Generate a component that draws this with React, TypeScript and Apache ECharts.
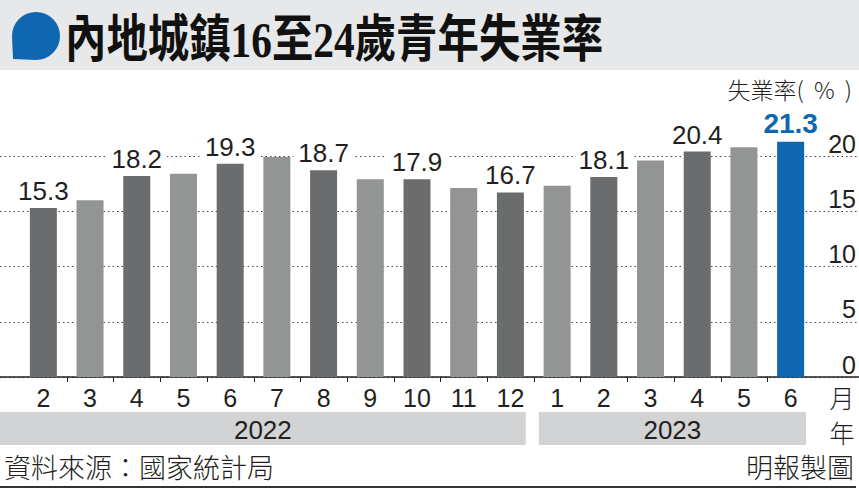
import React, { useEffect, useRef } from 'react';
import * as echarts from 'echarts';

// ---- data ----
const months = ['2', '3', '4', '5', '6', '7', '8', '9', '10', '11', '12', '1', '2', '3', '4', '5', '6'];
const monthYear = ['2022', '2022', '2022', '2022', '2022', '2022', '2022', '2022', '2022', '2022', '2022', '2023', '2023', '2023', '2023', '2023', '2023'];
const rates = [15.3, 16.0, 18.2, 18.4, 19.3, 19.9, 18.7, 17.9, 17.9, 17.1, 16.7, 17.3, 18.1, 19.6, 20.4, 20.8, 21.3];
const labeledIdx = [0, 2, 4, 6, 8, 10, 12, 14, 16];
const yearLabels = ['2022', '2023'];
const yearFirst = [0, 11];
const yearLast = [10, 16];
const yMax = 20;
const yStep = 5;

const DARK = '#6a6c6d';
const LIGHT = '#939494';
const BLUE = '#0e67b0';
const INK = '#231f20';
const NUM_FONT = '"Liberation Sans", Arial, sans-serif';
const CJK_FONT = '"Noto Sans CJK TC", "Noto Sans CJK SC", sans-serif';

echarts.graphic.registerShape(
  'bubble',
  echarts.graphic.extendPath('M13 59 L12 36 A24 24 0 1 1 36 60 Z', {}) as any
);

export default function App() {
  const ref = useRef<HTMLDivElement>(null);

  useEffect(() => {
    if (!ref.current) return;
    document.body.style.margin = '0';
    const chart = echarts.init(ref.current, null, { renderer: 'svg' });
    const cats = months.map((m, i) => monthYear[i] + '-' + m);
    const last = rates.length - 1;

    const barData = rates.map((v, i) => {
      const isLast = i === last;
      const color = isLast ? BLUE : i % 2 === 0 ? DARK : LIGHT;
      return {
        value: v,
        itemStyle: { color },
        label: {
          show: labeledIdx.includes(i),
          color: isLast ? BLUE : INK,
          fontWeight: isLast ? 'bold' : 'normal',
          fontSize: isLast ? 28 : 26,
        },
      };
    });

    const option: any = {
      animation: false,
      tooltip: { show: false },
      grid: [
        { left: 0, right: 0, top: 156, bottom: 113 },
        { left: 20, right: 45, top: 100.75, bottom: 113 },
      ],
      xAxis: [
        {
          gridIndex: 0,
          type: 'value',
          min: 0,
          max: 1,
          axisLine: { show: true, onZero: false, lineStyle: { color: INK, width: 1.5 } },
          axisTick: { show: false },
          axisLabel: { show: false },
          splitLine: { show: false },
        },
        {
          gridIndex: 1,
          type: 'category',
          data: cats,
          boundaryGap: true,
          axisLine: { show: false },
          axisTick: { show: false },
          axisLabel: {
            formatter: (v: string) => v.split('-')[1],
            color: INK,
            fontSize: 25,
            fontFamily: NUM_FONT,
            margin: 8,
          },
        },
      ],
      yAxis: [
        {
          gridIndex: 0,
          type: 'value',
          position: 'right',
          min: 0,
          max: yMax,
          interval: yStep,
          axisLine: { show: false },
          axisTick: { show: false },
          axisLabel: {
            inside: true,
            margin: 3,
            color: INK,
            fontSize: 25,
            fontFamily: NUM_FONT,
            verticalAlign: 'bottom',
          },
          splitLine: {
            show: true,
            lineStyle: { color: '#444', type: [1.5, 3], width: 1 },
          },
        },
        {
          gridIndex: 1,
          type: 'value',
          min: 0,
          max: 25,
          show: false,
          splitLine: { show: false },
        },
      ],
      series: [
        {
          type: 'bar',
          xAxisIndex: 1,
          yAxisIndex: 1,
          barWidth: 27,
          data: barData,
          silent: true,
          label: {
            position: 'top',
            distance: 3,
            fontSize: 26,
            fontFamily: NUM_FONT,
            backgroundColor: '#ffffff',
            padding: [2, 5, 1, 5],
          },
          z: 3,
        },
        {
          // tick marks between months
          type: 'custom',
          xAxisIndex: 1,
          yAxisIndex: 1,
          silent: true,
          clip: false,
          data: months.slice(1).map((_, i) => [i + 1, 0]),
          encode: { x: 0, y: 1 },
          renderItem: (params: any, api: any) => {
            const bw = api.size([1, 0])[0];
            const p = api.coord([api.value(0), 0]);
            const x = Math.round(p[0] - bw / 2) + 0.5;
            return {
              type: 'line',
              shape: { x1: x, y1: p[1], x2: x, y2: p[1] + 5 },
              style: { stroke: INK, lineWidth: 1 },
            };
          },
        },
        {
          type: 'custom',
          xAxisIndex: 1,
          yAxisIndex: 1,
          silent: true,
          clip: false,
          data: yearLabels.map((y, i) => [yearFirst[i], yearLast[i], i]),
          encode: { x: [0, 1] },
          renderItem: (params: any, api: any) => {
            const bw = api.size([1, 0])[0];
            const s = api.coord([api.value(0), 0]);
            const e = api.coord([api.value(1), 0]);
            const x0 = params.dataIndex === 0 ? 0 : s[0] - bw / 2 + 5;
            const x1 = e[0] + bw / 2 - 8;
            const y0 = s[1] + 35;
            const h = 33;
            return {
              type: 'group',
              children: [
                {
                  type: 'rect',
                  shape: { x: x0, y: y0, width: x1 - x0, height: h },
                  style: { fill: '#d1d3d4' },
                },
                {
                  type: 'text',
                  style: {
                    text: yearLabels[api.value(2)],
                    x: (x0 + x1) / 2,
                    y: y0 + h / 2 + 1,
                    align: 'center',
                    verticalAlign: 'middle',
                    fill: INK,
                    font: '26px ' + NUM_FONT,
                  },
                },
              ],
            };
          },
        },
      ],
      graphic: [
        { type: 'rect', left: 0, top: 0, shape: { width: 859, height: 70 }, style: { fill: '#e6e8e9' }, silent: true },
        { type: 'bubble', x: 0, y: 0, style: { fill: BLUE }, silent: true },
        {
          type: 'text',
          x: 65,
          y: 40,
          scaleX: 0.9,
          scaleY: 1.1,
          style: {
            text: '內地城鎮16至24歲青年失業率',
            font: 'bold 46px "Liberation Serif", "Noto Sans CJK TC", serif',
            fill: '#111',
            verticalAlign: 'middle',
            align: 'left',
          },
          silent: true,
        },
        {
          type: 'text',
          x: 852,
          y: 89,
          style: {
            text: '失業率(  %  )',
            font: '300 23px ' + CJK_FONT,
            fill: INK,
            align: 'right',
            verticalAlign: 'middle',
          },
          silent: true,
        },
        {
          type: 'text',
          x: 842,
          y: 397,
          style: { text: '月', font: '300 25px ' + CJK_FONT, fill: INK, align: 'center', verticalAlign: 'middle' },
          silent: true,
        },
        {
          type: 'text',
          x: 842,
          y: 432,
          style: { text: '年', font: '300 25px ' + CJK_FONT, fill: INK, align: 'center', verticalAlign: 'middle' },
          silent: true,
        },
        {
          type: 'text',
          x: 4,
          y: 466,
          style: { text: '資料來源：國家統計局', font: '300 27px ' + CJK_FONT, fill: INK, align: 'left', verticalAlign: 'middle' },
          silent: true,
        },
        {
          type: 'text',
          x: 854,
          y: 466,
          style: { text: '明報製圖', font: '300 27px ' + CJK_FONT, fill: INK, align: 'right', verticalAlign: 'middle' },
          silent: true,
        },
        {
          type: 'rect',
          left: 0,
          top: 486,
          shape: { width: 856, height: 2 },
          style: { fill: '#333' },
          silent: true,
        },
      ],
    };

    chart.setOption(option);
    return () => chart.dispose();
  }, []);

  return <div ref={ref} style={{ width: 859, height: 490, background: '#fff' }} />;
}
